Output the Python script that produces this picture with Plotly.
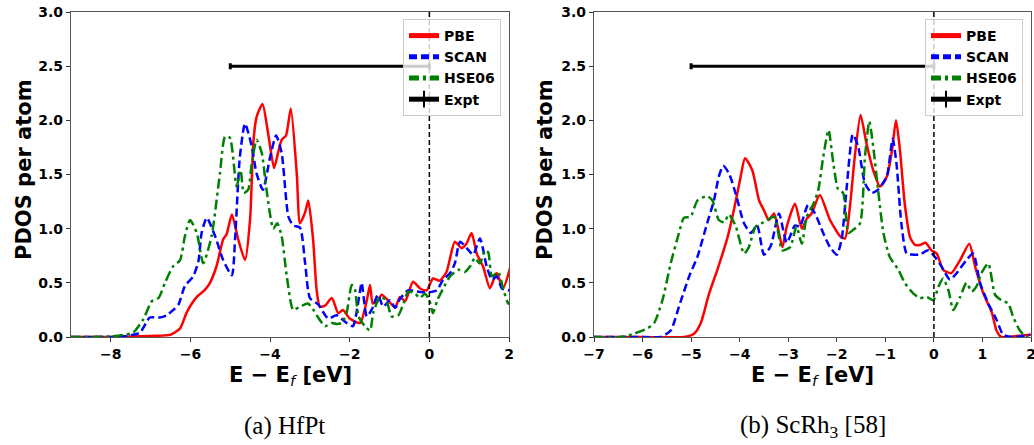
import plotly.graph_objects as go

# ---------------- data: HfPt ----------------
hfpt_pbe_e = [-9.0, -8.0, -7.5, -7.0, -6.51, -6.26, -6.09, -5.84, -5.65, -5.51, -5.34, -5.18, -5.09, -4.96,
              -4.80, -4.63, -4.50, -4.42, -4.34, -4.19, -4.05, -3.90, -3.80, -3.71, -3.60, -3.48, -3.33,
              -3.25, -3.12, -3.04, -2.92, -2.83, -2.75, -2.62, -2.45, -2.29, -2.17, -2.00, -1.74, -1.57,
              -1.49, -1.42, -1.30, -1.20, -1.04, -0.86, -0.74, -0.61, -0.41, -0.24, -0.07, 0.09, 0.26,
              0.43, 0.64, 0.81, 0.93, 1.06, 1.19, 1.35, 1.52, 1.69, 1.85, 2.03]
hfpt_pbe_dos = [0.0, 0.0, 0.005, 0.01, 0.02, 0.08, 0.23, 0.37, 0.43, 0.50, 0.66, 0.90, 0.95, 1.13,
                0.90, 0.71, 1.10, 1.80, 2.03, 2.15, 1.88, 1.56, 1.70, 1.82, 1.86, 2.11, 1.51,
                1.05, 1.15, 1.26, 0.90, 0.43, 0.28, 0.29, 0.36, 0.22, 0.25, 0.17, 0.13, 0.34,
                0.48, 0.31, 0.33, 0.39, 0.34, 0.27, 0.37, 0.33, 0.51, 0.45, 0.43, 0.54, 0.52,
                0.60, 0.88, 0.82, 0.86, 0.96, 0.77, 0.65, 0.45, 0.59, 0.45, 0.64]

hfpt_scan_e = [-9.0, -8.0, -7.6, -7.27, -7.02, -6.77, -6.60, -6.43, -6.30, -6.14, -5.93, -5.80, -5.72,
               -5.59, -5.38, -5.18, -4.96, -4.88, -4.76, -4.63, -4.46, -4.34, -4.18, -4.00, -3.85, -3.71,
               -3.54, -3.42, -3.25, -3.12, -3.00, -2.79, -2.54, -2.33, -2.08, -1.92, -1.74, -1.70, -1.57,
               -1.45, -1.29, -1.16, -0.99, -0.86, -0.74, -0.54, -0.32, -0.11, 0.18, 0.35, 0.52, 0.64,
               0.77, 0.94, 1.10, 1.27, 1.44, 1.57, 1.69, 1.82, 1.98, 2.05]
hfpt_scan_dos = [0.0, 0.0, 0.01, 0.04, 0.18, 0.18, 0.20, 0.25, 0.30, 0.47, 0.56, 0.70, 0.96,
                 1.10, 0.93, 0.71, 0.57, 0.90, 1.66, 1.97, 1.76, 1.51, 1.36, 1.66, 1.86, 1.70,
                 1.11, 1.03, 1.01, 0.68, 0.36, 0.30, 0.17, 0.20, 0.13, 0.10, 0.43, 0.50, 0.19,
                 0.25, 0.39, 0.28, 0.34, 0.27, 0.35, 0.43, 0.42, 0.41, 0.43, 0.53, 0.59, 0.68,
                 0.88, 0.82, 0.76, 0.91, 0.65, 0.53, 0.56, 0.45, 0.43, 0.45]

hfpt_hse_e = [-9.0, -8.0, -7.69, -7.44, -7.19, -6.97, -6.80, -6.64, -6.44, -6.26, -6.14, -6.01, -5.84,
              -5.68, -5.47, -5.26, -5.13, -5.01, -4.84, -4.74, -4.66, -4.55, -4.46, -4.34, -4.21, -4.09,
              -3.92, -3.82, -3.71, -3.58, -3.42, -3.25, -3.05, -2.91, -2.83, -2.62, -2.45, -2.33, -2.20,
              -2.08, -1.95, -1.87, -1.78, -1.62, -1.49, -1.41, -1.24, -1.08, -0.95, -0.78, -0.65, -0.53,
              -0.36, -0.24, -0.11, 0.00, 0.09, 0.20, 0.35, 0.52, 0.73, 0.89, 1.02, 1.14, 1.27, 1.40,
              1.48, 1.57, 1.73, 1.85, 1.98, 2.05]
hfpt_hse_dos = [0.0, 0.005, 0.02, 0.04, 0.16, 0.33, 0.36, 0.50, 0.65, 0.71, 0.93, 1.08, 0.96,
                0.68, 0.93, 1.51, 1.85, 1.84, 1.39, 1.54, 1.33, 1.36, 1.60, 1.82, 1.70, 1.36,
                1.00, 1.05, 0.93, 0.56, 0.25, 0.28, 0.31, 0.25, 0.20, 0.10, 0.13, 0.12, 0.13,
                0.22, 0.48, 0.44, 0.19, 0.10, 0.06, 0.22, 0.37, 0.34, 0.19, 0.20, 0.31, 0.42,
                0.40, 0.36, 0.40, 0.34, 0.22, 0.34, 0.45, 0.56, 0.62, 0.60, 0.65, 0.73, 0.68, 0.80,
                0.78, 0.56, 0.60, 0.45, 0.31, 0.30]

# ---------------- data: ScRh3 ----------------
scrh3_pbe_e = [-7.0, -6.0, -5.15, -4.94, -4.80, -4.63, -4.46, -4.25, -4.12, -3.98, -3.89, -3.74, -3.60,
               -3.50, -3.40, -3.29, -3.12, -3.03, -2.86, -2.72, -2.62, -2.52, -2.35, -2.14, -1.93, -1.83,
               -1.73, -1.63, -1.51, -1.39, -1.25, -1.11, -0.97, -0.87, -0.78, -0.70, -0.60, -0.49, -0.39,
               -0.29, -0.17, -0.05, 0.06, 0.19, 0.36, 0.54, 0.73, 0.85, 1.02, 1.19, 1.29, 1.39, 1.70, 2.0]
scrh3_pbe_dos = [0.0, 0.0, 0.0, 0.03, 0.13, 0.40, 0.62, 0.92, 1.17, 1.48, 1.65, 1.54, 1.26,
                 1.17, 1.08, 1.14, 0.83, 1.02, 1.23, 1.00, 1.09, 1.14, 1.31, 1.08, 0.93, 0.91,
                 1.20, 1.66, 2.05, 1.79, 1.54, 1.39, 1.48, 1.70, 2.00, 1.73, 1.23, 0.92, 0.85,
                 0.85, 0.87, 0.80, 0.77, 0.62, 0.59, 0.71, 0.86, 0.65, 0.40, 0.23, 0.06, 0.0, 0.01, 0.02]

scrh3_scan_e = [-7.0, -6.0, -5.63, -5.42, -5.25, -5.04, -4.87, -4.67, -4.53, -4.43, -4.34, -4.22, -4.08,
                -3.91, -3.77, -3.64, -3.50, -3.36, -3.19, -3.03, -2.86, -2.76, -2.59, -2.45, -2.28, -2.14,
                -2.00, -1.90, -1.80, -1.67, -1.56, -1.42, -1.28, -1.15, -0.97, -0.85, -0.77, -0.67, -0.56,
                -0.42, -0.29, -0.12, 0.02, 0.16, 0.33, 0.47, 0.67, 0.81, 0.95, 1.12, 1.29, 1.43, 1.63, 1.98]
scrh3_scan_dos = [0.0, 0.0, 0.0, 0.06, 0.28, 0.56, 0.74, 1.05, 1.26, 1.48, 1.58, 1.51, 1.32,
                  1.05, 0.96, 1.03, 0.76, 0.84, 1.14, 0.87, 1.03, 1.02, 1.22, 1.14, 0.96, 0.83,
                  0.76, 0.90, 1.36, 1.87, 1.76, 1.42, 1.33, 1.36, 1.48, 1.83, 1.60, 1.05, 0.77,
                  0.76, 0.76, 0.80, 0.74, 0.65, 0.53, 0.59, 0.71, 0.77, 0.50, 0.31, 0.16, 0.02, 0.0, 0.02]

scrh3_hse_e = [-7.0, -6.45, -6.18, -5.90, -5.76, -5.59, -5.42, -5.25, -5.15, -5.01, -4.87, -4.67, -4.56,
               -4.43, -4.32, -4.22, -4.08, -3.91, -3.81, -3.67, -3.50, -3.29, -3.12, -2.96, -2.83, -2.72,
               -2.62, -2.48, -2.38, -2.28, -2.17, -2.07, -1.97, -1.87, -1.76, -1.66, -1.52, -1.42, -1.33,
               -1.25, -1.15, -1.04, -0.91, -0.73, -0.60, -0.42, -0.29, -0.15, -0.01, 0.09, 0.19, 0.30,
               0.40, 0.54, 0.67, 0.78, 0.88, 0.98, 1.12, 1.26, 1.39, 1.53, 1.63, 1.77, 1.91, 2.0]
scrh3_hse_dos = [0.0, 0.0, 0.03, 0.08, 0.13, 0.34, 0.68, 0.96, 1.10, 1.11, 1.26, 1.30, 1.26,
                 1.08, 1.06, 1.13, 1.02, 0.77, 0.83, 1.02, 1.06, 1.11, 0.80, 0.83, 1.02, 0.86,
                 1.11, 1.23, 1.36, 1.66, 1.91, 1.60, 1.36, 1.33, 0.96, 0.99, 1.05, 1.66, 1.99,
                 1.76, 1.36, 0.96, 0.74, 0.62, 0.50, 0.40, 0.36, 0.37, 0.34, 0.46, 0.54, 0.43,
                 0.25, 0.37, 0.50, 0.42, 0.47, 0.59, 0.68, 0.39, 0.34, 0.31, 0.19, 0.06, 0.0, 0.0]

# experimental valence-band width (center, half-width, plotted level)
expt_center = [-2.5]
expt_halfwidth = [2.5]
expt_level = [2.5]
fermi_level = 0.0

series_names = ["PBE", "SCAN", "HSE06", "Expt"]
captions = ["(a) HfPt", "(b) ScRh<sub>3</sub> [58]"]
x_title = 'E − E<sub><span style="font-style:italic;font-weight:normal">f</span></sub> [eV]'
y_title = "PDOS per atom"

FONT = "DejaVu Sans"
colors = {"PBE": "#ff0000", "SCAN": "#0000ff", "HSE06": "#008000"}
dashes = {"PBE": "solid", "SCAN": "8px,4px", "HSE06": "10px,4px,3px,4px"}

fig = go.Figure()

panels = [
    ("x", "y", "legend", [(hfpt_pbe_e, hfpt_pbe_dos), (hfpt_scan_e, hfpt_scan_dos), (hfpt_hse_e, hfpt_hse_dos)]),
    ("x2", "y2", "legend2", [(scrh3_pbe_e, scrh3_pbe_dos), (scrh3_scan_e, scrh3_scan_dos), (scrh3_hse_e, scrh3_hse_dos)]),
]

for xa, ya, lg, curves in panels:
    for name, (e, d) in zip(series_names[:3], curves):
        fig.add_trace(go.Scatter(
            x=e, y=d, mode="lines", name=name, xaxis=xa, yaxis=ya, legend=lg,
            line=dict(color=colors[name], width=2.5, dash=dashes[name], shape="spline", smoothing=0.6),
        ))
    fig.add_trace(go.Scatter(
        x=expt_center, y=expt_level, mode="lines+markers", name=series_names[3],
        xaxis=xa, yaxis=ya, legend=lg,
        line=dict(color="black", width=2.5),
        marker=dict(symbol="line-ns", size=0.1, color="black", line=dict(color="black", width=1.0)),
        error_x=dict(type="data", array=expt_halfwidth, symmetric=True, color="black", thickness=3, width=3),
    ))
    fig.add_shape(type="line", xref=xa, yref=f"{ya} domain", x0=fermi_level, x1=fermi_level, y0=0, y1=1,
                  line=dict(color="black", width=1.5, dash="5px,3px"))

tickfont = dict(family=FONT, size=14, color="black", weight="bold")
axis_common = dict(showline=True, linecolor="#555555", linewidth=1.3, mirror=True, ticks="outside",
                   ticklen=4, tickwidth=1.2, tickcolor="#333333", showgrid=False, zeroline=False,
                   tickfont=tickfont, automargin=False, ticklabeloverflow="allow")

y_dom = [1 - 337 / 445, 1 - 12 / 445]
fig.update_layout(
    template="none",
    width=1034, height=445, margin=dict(l=0, r=0, t=0, b=0, pad=0),
    paper_bgcolor="white", plot_bgcolor="white",
    xaxis=dict(domain=[71 / 1034, 509 / 1034], range=[-9, 2], dtick=2, anchor="y", **axis_common),
    yaxis=dict(domain=y_dom, range=[0, 3], dtick=0.5, tickformat=".1f", anchor="x", **axis_common),
    xaxis2=dict(domain=[594 / 1034, 1031 / 1034], range=[-7, 2], dtick=1, anchor="y2", **axis_common),
    yaxis2=dict(domain=y_dom, range=[0, 3], dtick=0.5, tickformat=".1f", anchor="x2", **axis_common),
)

legend_common = dict(xanchor="right", yanchor="top", bgcolor="rgba(255,255,255,0.8)",
                     bordercolor="#cccccc", borderwidth=1, itemwidth=30, itemsizing="constant",
                     font=dict(family=FONT, size=14, color="black", weight="bold"))
fig.update_layout(
    legend=dict(x=501 / 1034, y=1 - 19 / 445, **legend_common),
    legend2=dict(x=1023 / 1034, y=1 - 19 / 445, **legend_common),
)

title_font = dict(family=FONT, size=21, color="black", weight="bold")
for xc, ycap_x in [((71 + 509) / 2, 24), ((594 + 1031) / 2, 545)]:
    fig.add_annotation(text=x_title, xref="paper", yref="paper",
                       x=xc / 1034, y=1 - 376 / 445, xanchor="center", yanchor="middle",
                       showarrow=False, font=title_font)
    fig.add_annotation(text=y_title, xref="paper", yref="paper", textangle=-90,
                       x=ycap_x / 1034, y=1 - 170 / 445, xanchor="center", yanchor="middle",
                       showarrow=False, font=title_font)

for cap, xc in zip(captions, [284, 813]):
    fig.add_annotation(text=cap, xref="paper", yref="paper", x=xc / 1034, y=1 - 426 / 445,
                       xanchor="center", yanchor="middle", showarrow=False,
                       font=dict(family="Liberation Serif", size=25, color="black"))

fig.write_html("out.html")
